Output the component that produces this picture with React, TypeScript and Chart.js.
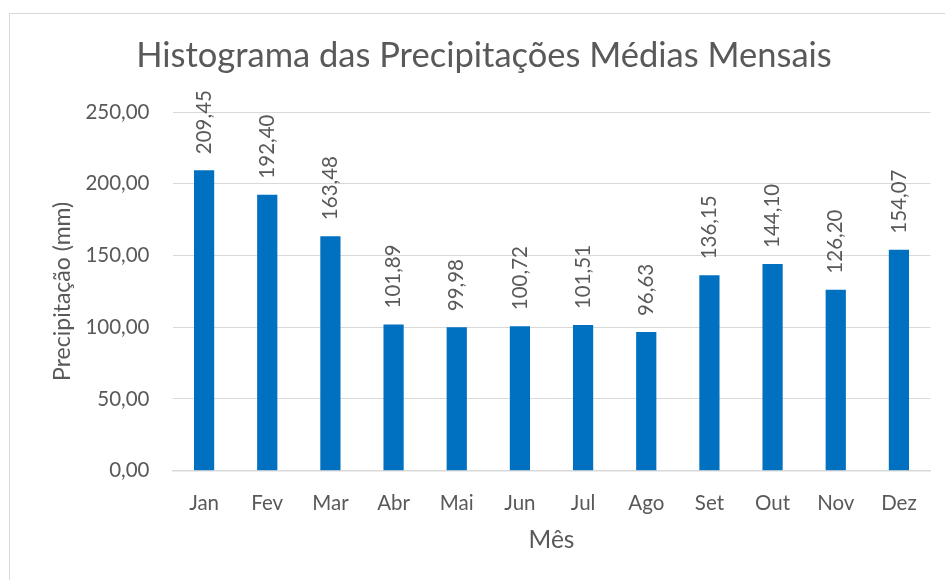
import React, { useEffect, useRef } from "react";
import { Chart, registerables } from "chart.js";

Chart.register(...registerables);

const months = ["Jan", "Fev", "Mar", "Abr", "Mai", "Jun", "Jul", "Ago", "Set", "Out", "Nov", "Dez"];
const precip = [209.45, 192.4, 163.48, 101.89, 99.98, 100.72, 101.51, 96.63, 136.15, 144.1, 126.2, 154.07];
const yTicks = [0, 50, 100, 150, 200, 250];
const chartTitle = "Histograma das Precipitações Médias Mensais";

const FONT = "Lato, 'Open Sans', sans-serif";
const TEXT = "#595959";

const fmt = (v: number) => v.toFixed(2).replace(".", ",");

const labelPlugin = {
  id: "barLabels",
  afterDatasetsDraw(chart: any) {
    const ctx = chart.ctx;
    const meta = chart.getDatasetMeta(0);
    ctx.save();
    ctx.font = `20.5px ${FONT}`;
    ctx.fillStyle = TEXT;
    ctx.textAlign = "left";
    ctx.textBaseline = "middle";
    meta.data.forEach((bar: any, i: number) => {
      ctx.save();
      ctx.translate(bar.x, bar.y - 16);
      ctx.rotate(-Math.PI / 2);
      ctx.fillText(fmt(precip[i]), 0, 0);
      ctx.restore();
    });
    ctx.restore();
  },
};

const titlePlugin = {
  id: "customTitle",
  afterDraw(chart: any) {
    const ctx = chart.ctx;
    ctx.save();
    ctx.font = `34.5px ${FONT}`;
    ctx.fillStyle = TEXT;
    ctx.textAlign = "center";
    ctx.textBaseline = "alphabetic";
    ctx.fillText(chartTitle, 484, 67);
    ctx.restore();
  },
};

export default function App() {
  const ref = useRef<HTMLCanvasElement>(null);
  useEffect(() => {
    const chart = new Chart(ref.current!, {
      type: "bar",
      data: {
        labels: months,
        datasets: [
          {
            data: precip,
            backgroundColor: "#0070c0",
            barPercentage: 0.32,
            categoryPercentage: 1,
          },
        ],
      },
      plugins: [labelPlugin, titlePlugin],
      options: {
        animation: false,
        responsive: false,
        maintainAspectRatio: false,
        layout: { padding: { left: 0, right: 14.5, top: 112, bottom: 0 } },
        plugins: {
          legend: { display: false },
          tooltip: { enabled: false },
          title: { display: false },
        },
        scales: {
          x: {
            grid: { display: false, drawTicks: false },
            border: { color: "#d9d9d9", width: 1.5 },
            ticks: { color: TEXT, font: { family: FONT, size: 20.5 }, padding: 20 },
            title: {
              display: true,
              text: "Mês",
              color: TEXT,
              font: { family: FONT, size: 24.5 },
              padding: { top: 0, bottom: 25 },
            },
            afterFit: (s: any) => {
              s.height = 109.3;
            },
          },
          y: {
            min: 0,
            max: 250,
            afterBuildTicks: (s: any) => {
              s.ticks = yTicks.map((v) => ({ value: v }));
            },
            grid: { color: "#d9d9d9", drawTicks: false, lineWidth: 1 },
            border: { display: false },
            ticks: {
              color: TEXT,
              font: { family: FONT, size: 20.5 },
              padding: 23,
              callback: (v: any) => fmt(Number(v)),
            },
            title: {
              display: true,
              text: "Precipitação (mm)",
              color: TEXT,
              font: { family: FONT, size: 23 },
              padding: { top: 49, bottom: 0 },
            },
            afterFit: (s: any) => {
              s.width = 172.5;
            },
          },
        },
      },
    });
    return () => chart.destroy();
  }, []);
  return (
    <div style={{ position: "fixed", left: 0, top: 0, width: 945, height: 580, background: "#fff" }}>
      <div
        style={{
          position: "absolute",
          left: 9,
          top: 13,
          width: 945,
          height: 580,
          border: "1px solid #d9d9d9",
          boxSizing: "border-box",
        }}
      />
      <canvas ref={ref} width={945} height={580} style={{ position: "absolute", left: 0, top: 0 }} />
    </div>
  );
}
